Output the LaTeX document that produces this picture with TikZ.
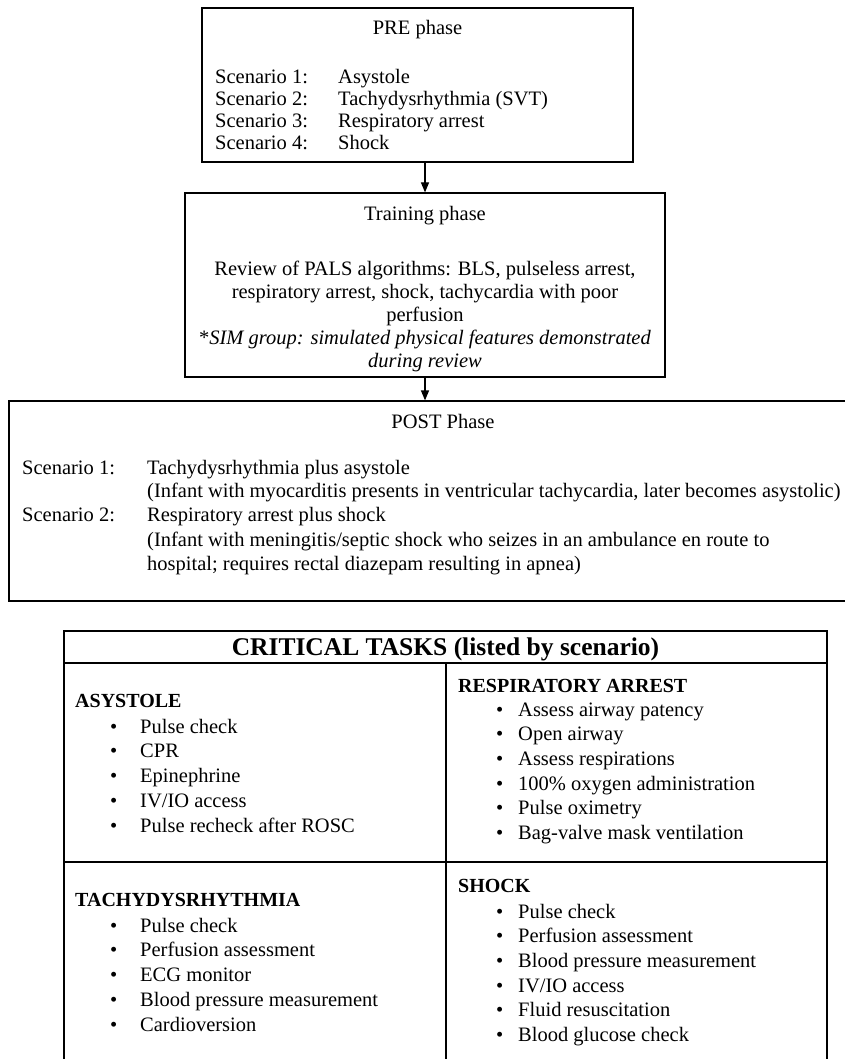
\documentclass[tikz,border=0pt]{standalone}
\usepackage{fontspec}
\setmainfont{Liberation Serif}
\usetikzlibrary{arrows.meta,positioning,calc}

\tikzset{
  box/.style={draw, line width=1.2pt, inner sep=0pt},
  txt/.style={inner sep=0pt, anchor=base west, font=\fontsize{20.5}{23}\selectfont},
  mid/.style={txt, anchor=base},
  title/.style={txt, font=\fontsize{20}{23}\selectfont\bfseries},
  arr/.style={-{Triangle[length=10pt,width=8pt]}, line width=1.2pt},
}

\begin{document}
\begin{tikzpicture}[x=1pt,y=-1pt]
    \useasboundingbox (0,0) rectangle (845,1059);
    \clip (0,0) rectangle (845,1059);

    % PRE phase
    \node (pre) [box, minimum width=431pt, minimum height=154pt] at (417.5,85) {};
    \node (pretitle) [mid] at (417.5,35) {PRE phase};
    \foreach \what [count=\i] in {Asystole, Tachydysrhythmia (SVT), Respiratory arrest, Shock}{
        \node (prelab\i) [txt] at (215,{84+21.7*(\i-1)}) {Scenario \i:};
        \node (preval\i) [txt] at (338,{84+21.7*(\i-1)}) {\what};
    }

    % training phase
    \node (train) [box, minimum width=480pt, minimum height=184pt] at (425,285) {};
    \node (traintitle) [mid] at (425,221) {Training phase};
    \node (train1) [mid] at (425,275) {Review of PALS algorithms: BLS, pulseless arrest,};
    \node (train2) [mid] at (425,298) {respiratory arrest, shock, tachycardia with poor};
    \node (train3) [mid] at (425,321) {perfusion};
    \node (train4) [mid] at (425,344) {*\textit{SIM group: simulated physical features demonstrated}};
    \node (train5) [mid] at (425,367) {\textit{during review}};

    % POST phase
    \node (post) [box, minimum width=871pt, minimum height=200pt] at (444.5,501) {};
    \node (posttitle) [mid] at (443,428) {POST Phase};
    \node (postlab1) [txt] at (22,474) {Scenario 1:};
    \node (postval1) [txt] at (147,474) {Tachydysrhythmia plus asystole};
    \node (postnote1) [txt] at (147,497) {(Infant with myocarditis presents in ventricular tachycardia, later becomes asystolic)};
    \node (postlab2) [txt] at (22,521) {Scenario 2:};
    \node (postval2) [txt] at (147,521) {Respiratory arrest plus shock};
    \node (postnote2) [txt] at (147,546) {(Infant with meningitis/septic shock who seizes in an ambulance en route to};
    \node (postnote3) [txt] at (147,570) {hospital; requires rectal diazepam resulting in apnea)};

    \draw [arr] (pre.south -| train.north) -- (train.north);
    \draw [arr] (train.south) -- (train.south |- post.north);

    % critical tasks table
    \node (head) [box, minimum width=763pt, minimum height=32pt] at (445.5,647) {};
    \node (headtext) [mid, font=\fontsize{25.5}{28}\selectfont\bfseries] at (445.5,655) {CRITICAL TASKS (listed by scenario)};
    \node (asys) [box, minimum width=382pt, minimum height=199pt] at (255,762.5) {};
    \node (resp) [box, minimum width=381pt, minimum height=199pt] at (636.5,762.5) {};
    \node (tachy) [box, minimum width=382pt, minimum height=220pt] at (255,972) {};
    \node (shock) [box, minimum width=381pt, minimum height=220pt] at (636.5,972) {};

    \node (asystitle) [title] at (75,707) {ASYSTOLE};
    \foreach \task [count=\i] in {Pulse check, CPR, Epinephrine, IV/IO access, Pulse recheck after ROSC}{
        \node (asysdot\i) [txt] at (110,{733+24.8*(\i-1)}) {•};
        \node (asys\i) [txt] at (140,{733+24.8*(\i-1)}) {\task};
    }
    \node (resptitle) [title] at (458,692) {RESPIRATORY ARREST};
    \foreach \task [count=\i] in {Assess airway patency, Open airway, Assess respirations, 100\% oxygen administration, Pulse oximetry, Bag-valve mask ventilation}{
        \node (respdot\i) [txt] at (496,{716+24.7*(\i-1)}) {•};
        \node (resp\i) [txt] at (518,{716+24.7*(\i-1)}) {\task};
    }
    \node (tachytitle) [title] at (75,906) {TACHYDYSRHYTHMIA};
    \foreach \task [count=\i] in {Pulse check, Perfusion assessment, ECG monitor, Blood pressure measurement, Cardioversion}{
        \node (tachydot\i) [txt] at (110,{932+24.8*(\i-1)}) {•};
        \node (tachy\i) [txt] at (140,{932+24.8*(\i-1)}) {\task};
    }
    \node (shocktitle) [title] at (458,892) {SHOCK};
    \foreach \task [count=\i] in {Pulse check, Perfusion assessment, Blood pressure measurement, IV/IO access, Fluid resuscitation, Blood glucose check}{
        \node (shockdot\i) [txt] at (496,{918+24.7*(\i-1)}) {•};
        \node (shock\i) [txt] at (518,{918+24.7*(\i-1)}) {\task};
    }
\end{tikzpicture}
\end{document}
